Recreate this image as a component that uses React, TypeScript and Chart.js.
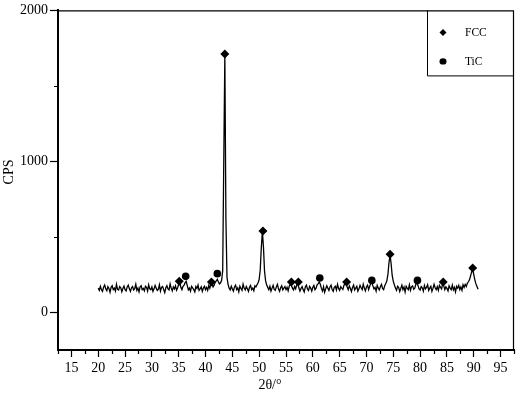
import React, { useEffect, useRef } from "react";
import { Chart, registerables } from "chart.js";

Chart.register(...registerables);

// ---- data ----
const X_START = 20;
const X_STEP = 0.2;
// CPS values sampled every 0.2° from 20.0° to 90.8°
const CPS = [
  // 20.0 - 24.8
  160, 145, 172, 150, 138, 166, 180, 155, 142, 170, 158, 132, 165, 176, 150, 160, 140, 185, 152, 148, 170, 162, 136, 158, 174,
  // 25.0 - 29.8
  150, 142, 168, 180, 155, 138, 162, 170, 148, 156, 186, 145, 160, 135, 168, 175, 150, 158, 142, 172, 165, 140, 182, 155, 150,
  // 30.0 - 34.8
  168, 138, 155, 178, 160, 145, 152, 182, 140, 165, 170, 150, 130, 162, 176, 155, 148, 188, 160, 142, 168, 155, 175, 146, 162,
  // 35.0 - 39.8
  185, 198, 165, 150, 172, 180, 196, 205, 176, 148, 160, 140, 172, 162, 150, 135, 170, 158, 180, 145, 155, 168, 138, 160, 172,
  // 40.0 - 44.8
  150, 165, 145, 178, 160, 185, 192, 168, 180, 198, 208, 218, 200, 188, 195, 212, 275, 1000, 1705, 620, 232, 185, 160, 148, 172,
  // 45.0 - 49.8
  155, 140, 168, 180, 150, 162, 135, 172, 158, 145, 186, 160, 148, 170, 155, 138, 165, 178, 150, 160, 142, 175, 168, 182, 196,
  // 50.0 - 54.8
  218, 282, 430, 535, 430, 272, 208, 180, 165, 150, 172, 140, 160, 178, 152, 145, 168, 185, 155, 138, 162, 175, 148, 160, 170,
  // 55.0 - 59.8
  150, 165, 142, 172, 185, 178, 160, 148, 170, 155, 182, 190, 162, 140, 158, 170, 150, 135, 168, 180, 155, 145, 172, 160, 140,
  // 60.0 - 64.8
  165, 178, 150, 160, 182, 190, 200, 185, 158, 140, 170, 132, 155, 176, 160, 145, 168, 180, 150, 138, 165, 172, 148, 185, 158,
  // 65.0 - 69.8
  145, 170, 160, 152, 178, 188, 185, 168, 150, 175, 158, 138, 165, 180, 148, 160, 172, 140, 155, 178, 162, 150, 185, 160, 142,
  // 70.0 - 74.8
  168, 180, 150, 172, 190, 198, 175, 155, 165, 140, 178, 160, 148, 170, 185, 158, 150, 176, 190, 208, 252, 330, 380, 320, 242,
  // 75.0 - 79.8
  205, 182, 160, 145, 172, 165, 138, 158, 180, 150, 168, 135, 172, 160, 150, 182, 145, 168, 175, 152, 160, 185, 195, 178, 155,
  // 80.0 - 84.8
  148, 170, 162, 140, 178, 155, 165, 182, 145, 160, 172, 138, 158, 185, 162, 150, 170, 145, 178, 165, 155, 188, 176, 150, 168,
  // 85.0 - 89.8
  158, 142, 175, 160, 150, 180, 148, 165, 135, 172, 160, 178, 150, 168, 145, 182, 165, 185, 170, 192, 202, 215, 240, 268, 288,
  // 90.0 - 90.8
  250, 215, 188, 170, 152,
];

const FCC_X = [35.1, 41.1, 43.6, 50.7, 56.0, 57.3, 66.3, 74.4, 84.3, 89.8];
const FCC_Y = [205, 200, 1711, 538, 200, 200, 200, 385, 200, 293];
const TIC_X = [36.3, 42.2, 61.3, 71.0, 79.5];
const TIC_Y = [238, 256, 227, 211, 211];

const X_TICKS = [15, 20, 25, 30, 35, 40, 45, 50, 55, 60, 65, 70, 75, 80, 85, 90, 95];
const X_MINOR = [12.5, 17.5, 22.5, 27.5, 32.5, 37.5, 42.5, 47.5, 52.5, 57.5, 62.5, 67.5, 72.5, 77.5, 82.5, 87.5, 92.5, 97.5];
const Y_TICKS = [0, 1000, 2000];
const Y_MINOR = [500, 1500];

const X_TITLE = "2θ/°";
const Y_TITLE = "CPS";
const LEGEND_LABELS = ["FCC", "TiC"];

const FONT = "'Liberation Serif', 'Times New Roman', serif";

const decorPlugin = {
  id: "decor",
  afterDraw(chart: any) {
    const { ctx, chartArea: a, scales } = chart;
    const xs = scales.x;
    const ys = scales.y;
    ctx.save();
    ctx.strokeStyle = "#000";
    ctx.fillStyle = "#000";
    // top & right frame
    ctx.lineWidth = 1.2;
    ctx.beginPath();
    ctx.moveTo(a.left, a.top + 0.5);
    ctx.lineTo(a.right, a.top + 0.5);
    ctx.moveTo(a.right - 0.5, a.top);
    ctx.lineTo(a.right - 0.5, a.bottom);
    ctx.stroke();
    // minor ticks
    ctx.lineWidth = 1.2;
    ctx.beginPath();
    X_MINOR.forEach((v) => {
      const p = Math.round(xs.getPixelForValue(v)) + 0.5;
      ctx.moveTo(p, a.bottom);
      ctx.lineTo(p, a.bottom + 4);
    });
    Y_MINOR.forEach((v) => {
      const p = Math.round(ys.getPixelForValue(v)) + 0.5;
      ctx.moveTo(a.left, p);
      ctx.lineTo(a.left - 4, p);
    });
    ctx.stroke();
    // legend box
    const lx = a.right - 87;
    const lb = a.top + 65;
    ctx.lineWidth = 1;
    ctx.beginPath();
    ctx.moveTo(lx + 0.5, a.top);
    ctx.lineTo(lx + 0.5, lb + 0.5);
    ctx.lineTo(a.right, lb + 0.5);
    ctx.stroke();
    // legend entries
    const mx = lx + 16;
    const y1 = a.top + 22;
    const y2 = a.top + 51;
    ctx.beginPath();
    ctx.moveTo(mx, y1 - 3.5);
    ctx.lineTo(mx + 3.5, y1);
    ctx.lineTo(mx, y1 + 3.5);
    ctx.lineTo(mx - 3.5, y1);
    ctx.closePath();
    ctx.fill();
    ctx.beginPath();
    ctx.ellipse(mx, y2, 3.5, 3.2, 0, 0, Math.PI * 2);
    ctx.fill();
    ctx.font = `11.5px ${FONT}`;
    ctx.textAlign = "left";
    ctx.textBaseline = "middle";
    ctx.fillText(LEGEND_LABELS[0], lx + 38, y1 + 1);
    ctx.fillText(LEGEND_LABELS[1], lx + 38, y2 + 1);
    // axis titles
    ctx.font = `14px ${FONT}`;
    ctx.textAlign = "center";
    ctx.textBaseline = "middle";
    ctx.fillText(X_TITLE, 270, 385);
    ctx.save();
    ctx.translate(9, 172);
    ctx.rotate(-Math.PI / 2);
    ctx.fillText(Y_TITLE, 0, 0);
    ctx.restore();
    ctx.restore();
  },
};

export default function App() {
  const ref = useRef<HTMLCanvasElement | null>(null);
  useEffect(() => {
    if (!ref.current) return;
    const linePts = CPS.map((y, i) => ({ x: X_START + i * X_STEP, y }));
    const fccPts = FCC_X.map((x, i) => ({ x, y: FCC_Y[i] }));
    const ticPts = TIC_X.map((x, i) => ({ x, y: TIC_Y[i] }));
    const chart = new Chart(ref.current, {
      type: "scatter",
      data: {
        datasets: [
          {
            label: "FCC",
            data: fccPts,
            showLine: false,
            pointStyle: "rectRot",
            pointRadius: 4.5,
            backgroundColor: "#000",
            borderColor: "#000",
            borderWidth: 0,
          },
          {
            label: "TiC",
            data: ticPts,
            showLine: false,
            pointStyle: "circle",
            pointRadius: 3.8,
            backgroundColor: "#000",
            borderColor: "#000",
            borderWidth: 0,
          },
          {
            label: "CPS",
            data: linePts,
            showLine: true,
            borderColor: "#000",
            borderWidth: 1.3,
            pointRadius: 0,
            tension: 0,
          },
        ],
      },
      options: {
        responsive: false,
        animation: false,
        devicePixelRatio: 1,
        layout: { padding: { left: 0, right: 6, top: 10, bottom: 0 } },
        plugins: { legend: { display: false }, tooltip: { enabled: false } },
        scales: {
          x: {
            type: "linear",
            min: 12.5,
            max: 97.5,
            afterBuildTicks: (s: any) => {
              s.ticks = X_TICKS.map((v) => ({ value: v }));
            },
            afterFit: (s: any) => {
              s.height = 56;
            },
            grid: { drawOnChartArea: false, drawTicks: true, tickLength: 7, tickWidth: 1.2, tickColor: "#000" },
            border: { display: true, color: "#000", width: 2 },
            ticks: {
              color: "#000",
              font: { family: FONT, size: 14 },
              padding: 3,
              maxRotation: 0,
              autoSkip: false,
              callback: (v: any) => String(v),
            },
          },
          y: {
            type: "linear",
            min: -250,
            max: 2000,
            afterBuildTicks: (s: any) => {
              s.ticks = Y_TICKS.map((v) => ({ value: v }));
            },
            afterFit: (s: any) => {
              s.width = 58;
            },
            grid: { drawOnChartArea: false, drawTicks: true, tickLength: 8, tickWidth: 1.2, tickColor: "#000" },
            border: { display: true, color: "#000", width: 2 },
            ticks: {
              color: "#000",
              font: { family: FONT, size: 14 },
              padding: 2,
              autoSkip: false,
              callback: (v: any) => String(v),
            },
          },
        },
      },
      plugins: [decorPlugin],
    });
    return () => chart.destroy();
  }, []);
  return (
    <div style={{ position: "absolute", left: 0, top: 0, width: 520, height: 406, background: "#fff" }}>
      <canvas ref={ref} width={520} height={406} />
    </div>
  );
}
